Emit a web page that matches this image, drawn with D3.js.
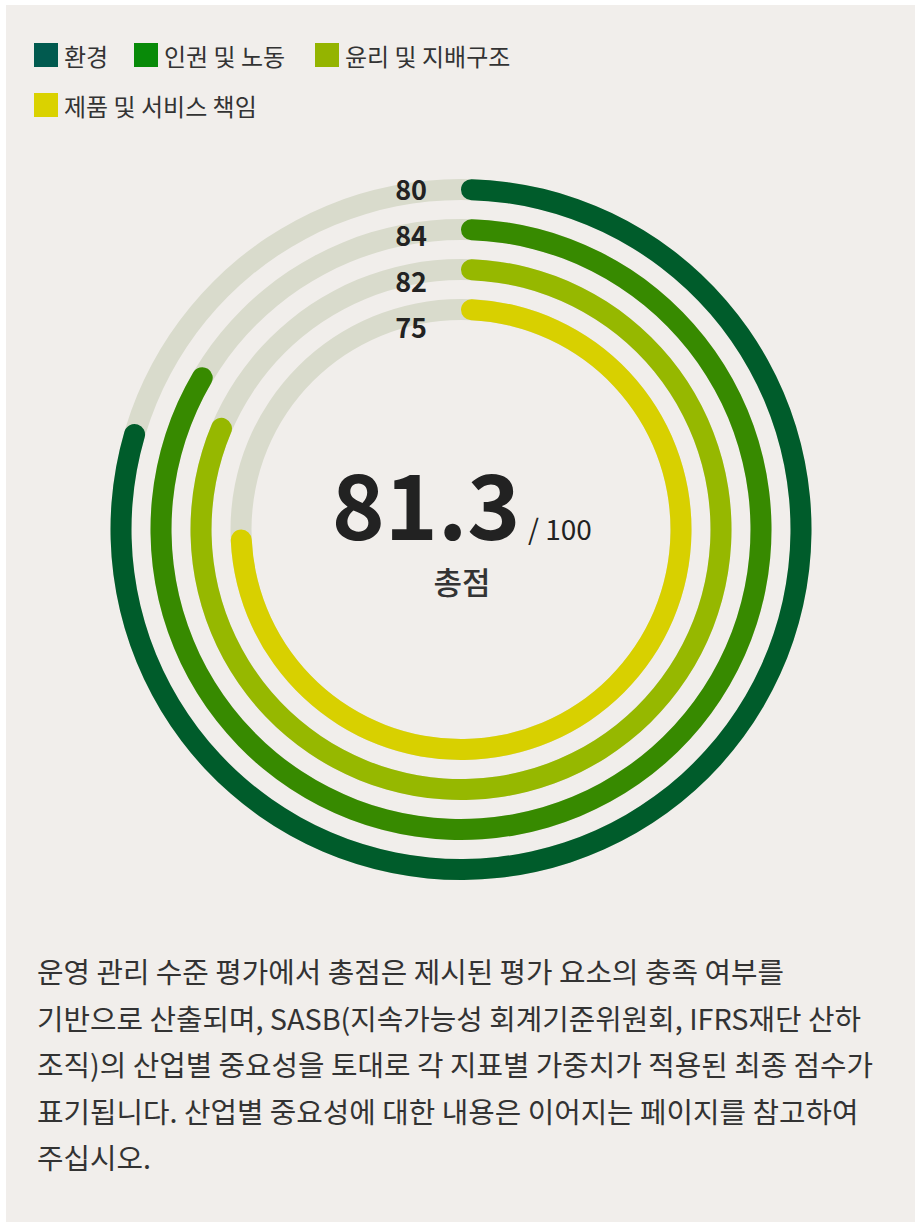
<!DOCTYPE html>
<html><head><meta charset="utf-8">
<script src="https://cdn.jsdelivr.net/npm/d3@7"></script>
<style>
html,body{margin:0;padding:0;background:#fff;}
svg{display:block;}
text{font-family:"Noto Sans CJK KR","Noto Sans",sans-serif;}
</style></head>
<body>
<svg id="chart" width="915" height="1222"></svg>
<script>
const categories = ["환경", "인권 및 노동", "윤리 및 지배구조", "제품 및 서비스 책임"];
const values = [80, 84, 82, 75];
const legendColors = ["#015a4f", "#088a08", "#94b400", "#dad200"];
const ringColors = ["#005c2b", "#378a00", "#96b800", "#d8d000"];
const totalScore = "81.3";
const maxScore = 100;
const centerLabel = "총점";
const noteLines = [
  "운영 관리 수준 평가에서 총점은 제시된 평가 요소의 충족 여부를",
  "기반으로 산출되며, SASB(지속가능성 회계기준위원회, IFRS재단 산하",
  "조직)의 산업별 중요성을 토대로 각 지표별 가중치가 적용된 최종 점수가",
  "표기됩니다. 산업별 중요성에 대한 내용은 이어지는 페이지를 참고하여",
  "주십시오."
];

const svg = d3.select("#chart");
svg.append("rect").attr("x", 6).attr("y", 5).attr("width", 909).attr("height", 1217).attr("fill", "#f1eeeb");

// Legend
const legendPos = [[34, 43], [134, 43], [315, 43], [34, 93]];
const lg = svg.append("g");
categories.forEach((c, i) => {
  const [x, y] = legendPos[i];
  lg.append("rect").attr("x", x).attr("y", y).attr("width", 24).attr("height", 24).attr("fill", legendColors[i]);
  lg.append("text").attr("x", x + 30).attr("y", y + 12).attr("dominant-baseline", "central")
    .attr("font-size", 24).attr("fill", "#333").text(c);
});

// Rings
const cx = 461, cy = 529.5;
const angle = d3.scaleLinear().domain([0, maxScore]).range([0, 2 * Math.PI]);
const radius = d3.scalePoint().domain(categories).range([340, 220]);
const sw = 21;
const g = svg.append("g").attr("transform", `translate(${cx},${cy})`);
categories.forEach((c, i) => {
  const r = radius(c);
  const arcTrack = d3.arc().innerRadius(r - sw / 2).outerRadius(r + sw / 2).startAngle(0).endAngle(2 * Math.PI);
  g.append("path").attr("d", arcTrack()).attr("fill", "#d9dbcc");
  const arcVal = d3.arc().innerRadius(r - sw / 2).outerRadius(r + sw / 2)
    .startAngle(0).endAngle(angle(values[i])).cornerRadius(sw / 2);
  g.append("path").attr("d", arcVal()).attr("fill", ringColors[i]);
  g.append("text").attr("x", -34).attr("y", -341.5 + i * 46).attr("dominant-baseline", "central")
    .attr("text-anchor", "end").attr("font-size", 27).attr("font-weight", 700)
    .attr("fill", "#222").text(values[i]);
});

// Center text
g.append("text").attr("x", -35).attr("y", 10).attr("text-anchor", "middle")
  .attr("font-size", 90).attr("font-weight", 700).attr("fill", "#222").text(totalScore);
g.append("text").attr("x", 67).attr("y", 10).attr("text-anchor", "start")
  .attr("font-size", 28).attr("fill", "#222").text("/ " + maxScore);
g.append("text").attr("x", 1).attr("y", 64).attr("text-anchor", "middle")
  .attr("font-size", 31).attr("font-weight", 500).attr("fill", "#333").text(centerLabel);

// Note
const note = svg.append("g");
noteLines.forEach((l, i) => {
  note.append("text").attr("x", 37).attr("y", 983 + i * 46.5)
    .attr("font-size", 28.8).attr("fill", "#333").text(l);
});
</script>
</body></html>
